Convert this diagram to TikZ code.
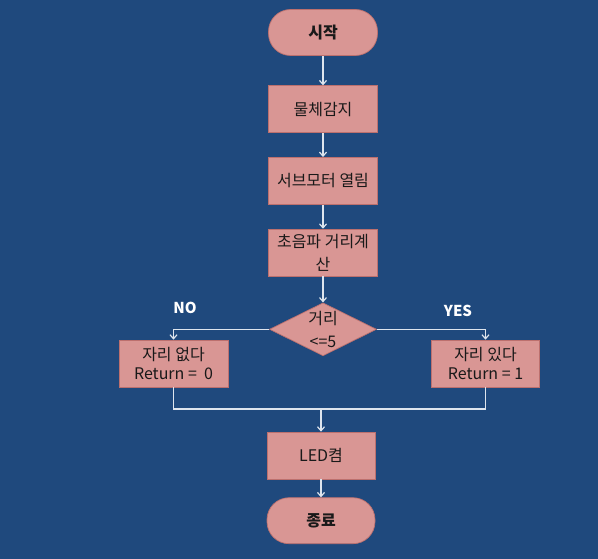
\documentclass[tikz,border=0pt]{standalone}
\usepackage{fontspec}
\setmainfont{Noto Sans CJK KR}
\usepackage{tikz}
\usetikzlibrary{arrows.meta,positioning,calc,shapes.geometric}
\usepackage{xcolor}
\definecolor{bgblue}{RGB}{31,73,125}
\definecolor{boxpink}{RGB}{217,150,148}
\definecolor{boxline}{RGB}{188,112,110}
\definecolor{flowline}{RGB}{222,229,238}

\begin{document}
\begin{tikzpicture}[x=1pt,y=-1pt,node distance=24pt,
    font=\fontsize{16}{19.5}\selectfont,
    box/.style={draw=boxline,line width=0.7pt,fill=boxpink,text=black!90,minimum width=109pt,minimum height=47pt,inner sep=1pt,align=center},
    term/.style={box,rounded corners=22pt,minimum height=46pt,font=\fontsize{16}{19.5}\selectfont\bfseries},
    cond/.style={draw=boxline,line width=0.7pt,fill=boxpink,text=black!90,diamond,aspect=2,inner sep=0pt,minimum width=107pt,minimum height=53pt,align=center},
    arr/.style={draw=flowline,line width=1.2pt,-{Straight Barb[length=4pt,width=7pt]}},
    ln/.style={draw=flowline,line width=1.2pt},
    tag/.style={text=white,font=\fontsize{15}{17}\selectfont\bfseries}]
  \fill[bgblue] (0,0) rectangle (598,559);
  \useasboundingbox (0,0) rectangle (598,559);

  \node[term] (start) at (323,32.5) {시작};
  \node[box,below=29.5pt of start] (detect) {물체감지};
  \node[box,below=of detect] (servo) {서브모터 열림};
  \node[box,below=of servo] (calc) {초음파 거리계\\[4pt]산};
  \node[cond,below=26pt of calc] (dist) {거리\\[4pt]<=5};
  \node[box,minimum width=109pt] (nobox) at (173.5,363.5) {자리 없다\\Return =\ \ 0};
  \node[box,minimum width=108pt] (yesbox) at (485.5,363.5) {자리 있다\\Return = 1};
  \node[box,minimum width=108pt] (led) at (321,455.5) {LED켬};
  \node[term,below=18pt of led,minimum width=108pt] (stop) {종료};
  \node[tag] (no) at (185,307.5) {NO};
  \node[tag] (yes) at (458,311) {YES};
  \coordinate (merge) at (321,409);

  \draw[arr] (start) -- (detect);
  \draw[arr] (detect) -- (servo);
  \draw[arr] (servo) -- (calc);
  \draw[arr] (calc) -- (dist);
  \draw[arr] (dist.west) -| (nobox.north);
  \draw[arr] (dist.east) -| (yesbox.north);
  \draw[ln] (nobox.south) |- (merge) -| (yesbox.south);
  \draw[arr] (merge) -- (led);
  \draw[arr] (led) -- (stop);
\end{tikzpicture}
\end{document}
